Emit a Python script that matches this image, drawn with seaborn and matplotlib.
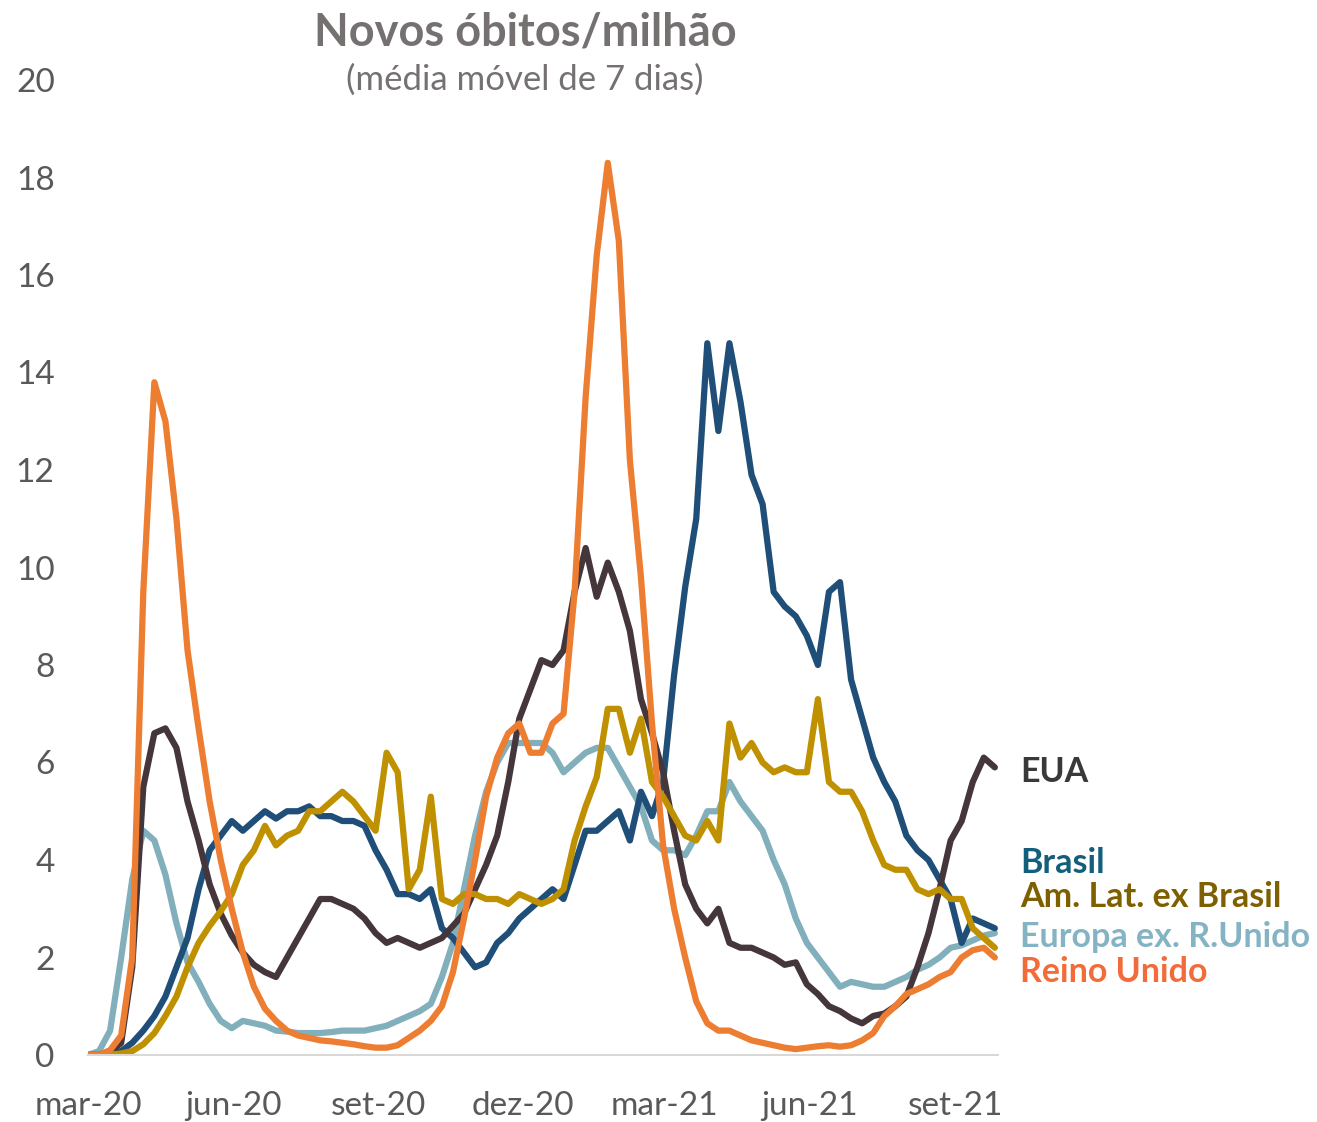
import matplotlib
matplotlib.use('Agg')
import matplotlib.pyplot as plt
import numpy as np
import pandas as pd
import seaborn as sns

# weekly points, 7-day moving average of new deaths per million
dates = pd.date_range('2020-03-01', periods=83, freq='7D')

eua = [0.0, 0.0, 0.05, 0.25, 1.8, 5.5, 6.6, 6.7, 6.3, 5.2,
       4.4, 3.5, 2.9, 2.45, 2.1, 1.85, 1.7, 1.6, 2.0, 2.4,
       2.8, 3.2, 3.2, 3.1, 3.0, 2.8, 2.5, 2.3, 2.4, 2.3,
       2.2, 2.3, 2.4, 2.65, 2.9, 3.4, 3.9, 4.5, 5.6, 6.9,
       7.5, 8.1, 8.0, 8.3, 9.5, 10.4, 9.4, 10.1, 9.5, 8.7,
       7.3, 6.6, 5.8, 4.6, 3.5, 3.0, 2.7, 3.0, 2.3, 2.2,
       2.2, 2.1, 2.0, 1.85, 1.9, 1.45, 1.25, 1.0, 0.9, 0.75,
       0.65, 0.8, 0.85, 1.0, 1.2, 1.8, 2.5, 3.4, 4.4, 4.8,
       5.6, 6.1, 5.9]

brasil = [0.0, 0.0, 0.02, 0.08, 0.25, 0.5, 0.8, 1.2, 1.8, 2.4,
          3.4, 4.2, 4.5, 4.8, 4.6, 4.8, 5.0, 4.85, 5.0, 5.0,
          5.1, 4.9, 4.9, 4.8, 4.8, 4.7, 4.2, 3.8, 3.3, 3.3,
          3.2, 3.4, 2.6, 2.4, 2.1, 1.8, 1.9, 2.3, 2.5, 2.8,
          3.0, 3.2, 3.4, 3.2, 3.9, 4.6, 4.6, 4.8, 5.0, 4.4,
          5.4, 4.9, 5.6, 7.8, 9.6, 11.0, 14.6, 12.8, 14.6, 13.4,
          11.9, 11.3, 9.5, 9.2, 9.0, 8.6, 8.0, 9.5, 9.7, 7.7,
          6.9, 6.1, 5.6, 5.2, 4.5, 4.2, 4.0, 3.6, 3.2, 2.3,
          2.8, 2.7, 2.6]

amlat = [0.0, 0.0, 0.01, 0.03, 0.08, 0.22, 0.45, 0.8, 1.2, 1.8,
         2.3, 2.65, 2.95, 3.3, 3.9, 4.2, 4.7, 4.3, 4.5, 4.6,
         5.0, 5.0, 5.2, 5.4, 5.2, 4.9, 4.6, 6.2, 5.8, 3.4,
         3.8, 5.3, 3.2, 3.1, 3.3, 3.3, 3.2, 3.2, 3.1, 3.3,
         3.2, 3.1, 3.2, 3.4, 4.4, 5.1, 5.7, 7.1, 7.1, 6.2,
         6.9, 5.6, 5.3, 4.9, 4.5, 4.4, 4.8, 4.4, 6.8, 6.1,
         6.4, 6.0, 5.8, 5.9, 5.8, 5.8, 7.3, 5.6, 5.4, 5.4,
         5.0, 4.4, 3.9, 3.8, 3.8, 3.4, 3.3, 3.4, 3.2, 3.2,
         2.6, 2.4, 2.2]

europa = [0.0, 0.08, 0.5, 2.0, 3.6, 4.6, 4.4, 3.7, 2.7, 1.9,
          1.5, 1.05, 0.7, 0.55, 0.7, 0.65, 0.6, 0.5, 0.48, 0.45,
          0.45, 0.45, 0.47, 0.5, 0.5, 0.5, 0.55, 0.6, 0.7, 0.8,
          0.9, 1.05, 1.6, 2.3, 3.4, 4.5, 5.4, 6.0, 6.4, 6.4,
          6.4, 6.4, 6.2, 5.8, 6.0, 6.2, 6.3, 6.3, 5.9, 5.5,
          5.1, 4.4, 4.2, 4.2, 4.1, 4.5, 5.0, 5.0, 5.6, 5.2,
          4.9, 4.6, 4.0, 3.5, 2.8, 2.3, 2.0, 1.7, 1.4, 1.5,
          1.45, 1.4, 1.4, 1.5, 1.6, 1.75, 1.85, 2.0, 2.2, 2.25,
          2.35, 2.45, 2.5]

reino_unido = [0.0, 0.0, 0.1, 0.4, 2.0, 9.5, 13.8, 13.0, 11.0, 8.3,
               6.7, 5.2, 4.0, 3.0, 2.1, 1.4, 0.95, 0.7, 0.5, 0.4,
               0.35, 0.3, 0.28, 0.25, 0.22, 0.18, 0.15, 0.15, 0.2, 0.35,
               0.5, 0.7, 1.0, 1.7, 2.8, 4.0, 5.3, 6.1, 6.6, 6.8,
               6.2, 6.2, 6.8, 7.0, 9.5, 13.5, 16.4, 18.3, 16.7, 12.2,
               9.8, 6.8, 4.3, 3.0, 2.0, 1.1, 0.65, 0.5, 0.5, 0.4,
               0.3, 0.25, 0.2, 0.15, 0.12, 0.15, 0.18, 0.2, 0.17, 0.2,
               0.3, 0.45, 0.8, 1.0, 1.25, 1.35, 1.45, 1.6, 1.7, 2.0,
               2.15, 2.2, 2.0]

series = {
    'Europa ex. R.Unido': europa,
    'Brasil': brasil,
    'EUA': eua,
    'Am. Lat. ex Brasil': amlat,
    'Reino Unido': reino_unido,
}
line_colors = {
    'Europa ex. R.Unido': '#82AFBC',
    'Brasil': '#1F4E79',
    'EUA': '#44363A',
    'Am. Lat. ex Brasil': '#BF9000',
    'Reino Unido': '#ED7D31',
}
label_colors = {
    'EUA': '#3B3838',
    'Brasil': '#135E7B',
    'Am. Lat. ex Brasil': '#7F6000',
    'Europa ex. R.Unido': '#84B4C4',
    'Reino Unido': '#F26B38',
}
label_ypx = {'EUA': 772, 'Brasil': 863, 'Am. Lat. ex Brasil': 897,
             'Europa ex. R.Unido': 937, 'Reino Unido': 972}

df = pd.concat([
    pd.DataFrame({'data': dates, 'valor': vals, 'pais': name})
    for name, vals in series.items()
], ignore_index=True)

sns.set_theme(style='white')
plt.rcParams['font.family'] = ['Lato', 'DejaVu Sans']

W, H = 1317, 1122
fig = plt.figure(figsize=(W / 100, H / 100), dpi=100)
ax = fig.add_axes([88 / W, 1 - 1055 / H, (998 - 88) / W, (1055 - 80) / H])

sns.lineplot(data=df, x='data', y='valor', hue='pais',
             hue_order=list(series.keys()), palette=line_colors,
             linewidth=4.5, legend=False, ax=ax)

ax.set_xlim(pd.Timestamp('2020-03-01'), pd.Timestamp('2021-09-28'))
ax.set_ylim(0, 20)
ax.set_yticks(np.arange(0, 21, 2))
ticks = pd.to_datetime(['2020-03-01', '2020-06-01', '2020-09-01', '2020-12-01',
                        '2021-03-01', '2021-06-01', '2021-09-01'])
tick_labels = ['mar-20', 'jun-20', 'set-20', 'dez-20', 'mar-21', 'jun-21', 'set-21']
ax.set_xticks(ticks)
ax.set_xticklabels(tick_labels)
ax.set_xlabel('')
ax.set_ylabel('')
ax.tick_params(axis='both', length=0, labelsize=24, colors='#595959')
ax.tick_params(axis='y', pad=24)
ax.tick_params(axis='x', pad=26)

for side in ['top', 'right', 'left']:
    ax.spines[side].set_visible(False)
ax.spines['bottom'].set_color('#D9D9D9')
ax.spines['bottom'].set_linewidth(1.5)

fig.text(525 / W, 1 - 32 / H, 'Novos óbitos/milhão', ha='center', va='center',
         fontsize=32.5, fontweight='bold', color='#767171')
fig.text(525 / W, 1 - 80 / H, '(média móvel de 7 dias)', ha='center', va='center',
         fontsize=25, color='#767171')

for name, ypx in label_ypx.items():
    fig.text(1020 / W, 1 - ypx / H, name, ha='left', va='center',
             fontsize=24.5, fontweight='bold', color=label_colors[name])

fig.savefig('out.png', dpi=100)
plt.close(fig)
